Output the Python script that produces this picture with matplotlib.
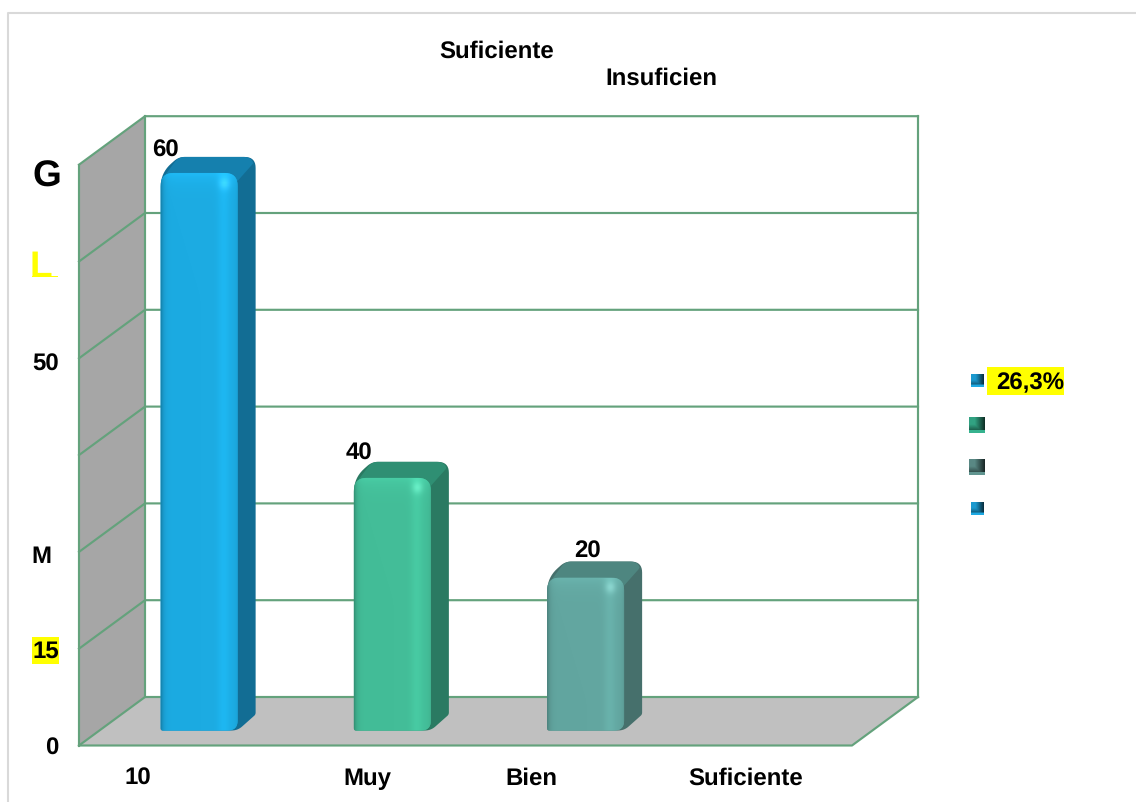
import numpy as np
import matplotlib
matplotlib.use("Agg")
import matplotlib.pyplot as plt
from matplotlib.patches import Polygon, Rectangle
from matplotlib.colors import to_rgb

# ---- data ----
categories = ["10", "Muy", "Bien", "Suficiente"]
bar_values = [57.6, 26.1, 15.8, 0.0]
bar_labels = ["60", "40", "20", ""]
y_grid = [0, 10, 20, 30, 40, 50, 60]
y_labels = ["0", "15", "M", "", "50", "L", "G"]
titles = ["Suficiente", "Insuficien"]
legend_labels = ["26,3%", "", "", ""]

# ---- style ----
W, H = 1136, 802
plt.rcParams["font.family"] = ["Liberation Sans", "DejaVu Sans"]
plt.rcParams["font.weight"] = "bold"
plt.rcParams["text.hinting"] = "none"
plt.rcParams["text.hinting_factor"] = 1
FS = 17.0
GRID = "#64A27C"
FRONT = ["#1CABE2", "#43BD98", "#62A6A0"]
SIDE = ["#126D94", "#2A7A62", "#46706C"]
TOP = ["#1580AE", "#2F8F73", "#4E8680"]
SWATCH = ["#1A93C6", "#2F9B7C", "#55827E", "#1A93C6"]

# ---- geometry (pixels in the reference) ----
X0, X1, Y0 = 79.0, 852.0, 745.5
UY = 9.68                    # pixels per value unit
UX = (X1 - X0) / len(categories)
DEPTH_X, DEPTH_Y = 66.0 / UX, 48.5 / UY
BAR_W, BAR_BASE, BAR_SHIFT = 77.0, 15.0, 23.5
SIDE_DX, SIDE_DY = 18.0, 16.0

fig = plt.figure(figsize=(W / 100, H / 100), dpi=100, facecolor="white")
ax = fig.add_axes([X0 / W, 1 - Y0 / H, (X1 - X0) / W, 60 * UY / H])
ax.set_xlim(0, len(categories))
ax.set_ylim(0, 60)
ax.axis("off")
ax.set_autoscale_on(False)

xmax = len(categories)
ymax = y_grid[-1]
# floor and side wall
ax.add_patch(Polygon([(0, 0), (xmax, 0), (xmax + DEPTH_X, DEPTH_Y), (DEPTH_X, DEPTH_Y)],
                     fc="#C0C0C0", ec="none", clip_on=False, zorder=1))
ax.add_patch(Polygon([(0, 0), (DEPTH_X, DEPTH_Y), (DEPTH_X, ymax + DEPTH_Y), (0, ymax)],
                     fc="#A6A6A6", ec="none", clip_on=False, zorder=1))


def gline(xs, ys):
    ax.plot(xs, ys, color=GRID, lw=1.55, clip_on=False, zorder=2, solid_capstyle="projecting")


for v in y_grid:
    gline([0, DEPTH_X, xmax + DEPTH_X], [v, v + DEPTH_Y, v + DEPTH_Y])
gline([0, 0], [0, ymax])
gline([DEPTH_X, DEPTH_X], [DEPTH_Y, ymax + DEPTH_Y])
gline([xmax + DEPTH_X, xmax + DEPTH_X], [DEPTH_Y, ymax + DEPTH_Y])
gline([0, xmax, xmax + DEPTH_X], [0, 0, DEPTH_Y])


def rounded(points, radii, n=10):
    """Polyline through points with rounded corners (all in pixels)."""
    pts = np.asarray(points, float)
    out = []
    m = len(pts)
    for i in range(m):
        p, a, b = pts[i], pts[i - 1], pts[(i + 1) % m]
        r = radii[i]
        if r <= 0:
            out.append(p)
            continue
        s = p + (a - p) / np.linalg.norm(a - p) * r
        e = p + (b - p) / np.linalg.norm(b - p) * r
        for t in np.linspace(0, 1, n):
            out.append((1 - t) ** 2 * s + 2 * t * (1 - t) * p + t ** 2 * e)
    return np.array(out)


def draw_bar(i, value):
    cx = i + 0.5 + BAR_SHIFT / UX
    L, R = -BAR_W / 2, BAR_W / 2
    b, t = BAR_BASE, BAR_BASE + value * UY
    dx, dy = SIDE_DX, SIDE_DY

    def to_data(p):
        return np.column_stack([cx + p[:, 0] / UX, p[:, 1] / UY])

    sil = rounded([(L, b), (R, b), (R + dx, b + dy), (R + dx, t + dy), (L + dx, t + dy), (L, t)],
                  [2, 6, 2, 11, 6, 14])
    ax.add_patch(Polygon(to_data(sil), fc=SIDE[i], ec="none", clip_on=False, zorder=3))
    top = rounded([(L, t - 8), (L + dx, t + dy), (R + dx - 2, t + dy), (R + dx - 2, t + dy - 6), (R, t - 8)],
                  [8, 6, 10, 0, 0])
    ax.add_patch(Polygon(to_data(top), fc=TOP[i], ec="none", clip_on=False, zorder=4))
    front = rounded([(L, b), (R, b), (R, t), (L, t)], [3, 10, 13, 13])
    clip = Polygon(to_data(front), fc=FRONT[i], ec="none", clip_on=False, zorder=5)
    ax.add_patch(clip)

    # shaded front face
    nx, ny = 80, 200
    u = np.linspace(0, 1, nx)
    prof = 1 + 0.07 * np.exp(-((u - 0.82) / 0.08) ** 2)
    prof -= 0.22 * np.exp(-u / 0.035)
    prof -= 0.06 * np.exp(-(1 - u) / 0.02)
    h = t - b
    vpx = np.linspace(h, 0, ny)
    vert = 1 + 0.08 * np.exp(-((h - vpx) / 9.0))
    spot = np.exp(-((u[None, :] - 0.83) / 0.07) ** 2 - ((h - vpx[:, None] - 9) / 6.0) ** 2)
    base = np.array(to_rgb(FRONT[i]))
    img = np.clip(base[None, None, :] * (prof[None, :] * vert[:, None])[:, :, None]
                  + 0.12 * spot[:, :, None], 0, 1)
    im = ax.imshow(img, extent=[cx + L / UX, cx + R / UX, b / UY, t / UY], aspect="auto",
                   zorder=6, interpolation="bilinear", clip_on=True)
    im.set_clip_path(clip)


for i, val in enumerate(bar_values):
    if val > 0:
        draw_bar(i, val)
ax.set_xlim(0, xmax)
ax.set_ylim(0, ymax)

# bar value labels (offset from the top of each front face, in pixels)
label_offsets = [(-34, 22.5), (-33, 24.5), (2, 25.5)]
for i, (val, lab) in enumerate(zip(bar_values, bar_labels)):
    if lab:
        ox, oy = label_offsets[i]
        ax.annotate(lab, (i + 0.5 + BAR_SHIFT / UX, val + BAR_BASE / UY),
                    xytext=(ox * 0.72, oy * 0.72), textcoords="offset points",
                    ha="center", va="center", fontsize=FS, annotation_clip=False, zorder=8)

# overlay in reference pixels: frame, axis texts, legend
ov = fig.add_axes([0, 0, 1, 1], facecolor="none")
ov.set_xlim(0, W)
ov.set_ylim(H, 0)
ov.axis("off")
ov.set_autoscale_on(False)
ov.plot([8, 8, W], [H, 13, 13], color="#D9D9D9", lw=1.5, zorder=1)

ov.text(497, 52, titles[0], ha="center", va="center", fontsize=FS)
ov.text(661, 79, titles[1], ha="center", va="center", fontsize=FS)

for x, lab in zip([137.5, 367, 531, 746], categories):
    ov.text(x, 779, lab, ha="center", va="center", fontsize=FS)

ov.text(46.5, 177.5, y_labels[6], ha="center", va="center", fontsize=26.5)
ov.text(30, 277, y_labels[5], ha="left", va="baseline", fontsize=26.5, color="#FFFF00")
ov.add_patch(Rectangle((32, 275.5), 26, 1.8, fc="#FFFF00", ec="none"))
ov.text(46, 364.5, y_labels[4], ha="center", va="center", fontsize=FS)
ov.text(41.5, 556.5, y_labels[2], ha="center", va="center", fontsize=FS)
ov.add_patch(Rectangle((32, 637), 27, 27, fc="#FFFF00", ec="none"))
ov.text(45.5, 652, y_labels[1], ha="center", va="center", fontsize=FS, zorder=3)
ov.text(52, 748.5, y_labels[0], ha="center", va="center", fontsize=FS)

# legend
swatch_y = [381, 425, 467, 509]
swatch_s = [13, 16, 16, 13]
for y, s, col in zip(swatch_y, swatch_s, SWATCH):
    n = 16
    yy, xx = np.mgrid[0:n, 0:n] / (n - 1)
    c = np.array(to_rgb(col))
    shade = 1.05 - 0.75 * np.clip(np.maximum(xx - 0.35, yy - 0.45) * 1.5, 0, 1)
    shade = np.where(yy > 0.85, 1.15, shade)
    img = np.clip(c[None, None, :] * shade[:, :, None], 0, 1)
    ov.imshow(img, extent=[977 - s / 2, 977 + s / 2, y + s / 2, y - s / 2], aspect="auto",
              interpolation="bilinear", zorder=3)
ov.set_xlim(0, W)
ov.set_ylim(H, 0)
ov.add_patch(Rectangle((987, 367), 77, 28, fc="#FFFF00", ec="none"))
ov.text(1030.5, 383, legend_labels[0], ha="center", va="center", fontsize=FS, zorder=3)

fig.savefig("out.png", dpi=100, facecolor="white")
